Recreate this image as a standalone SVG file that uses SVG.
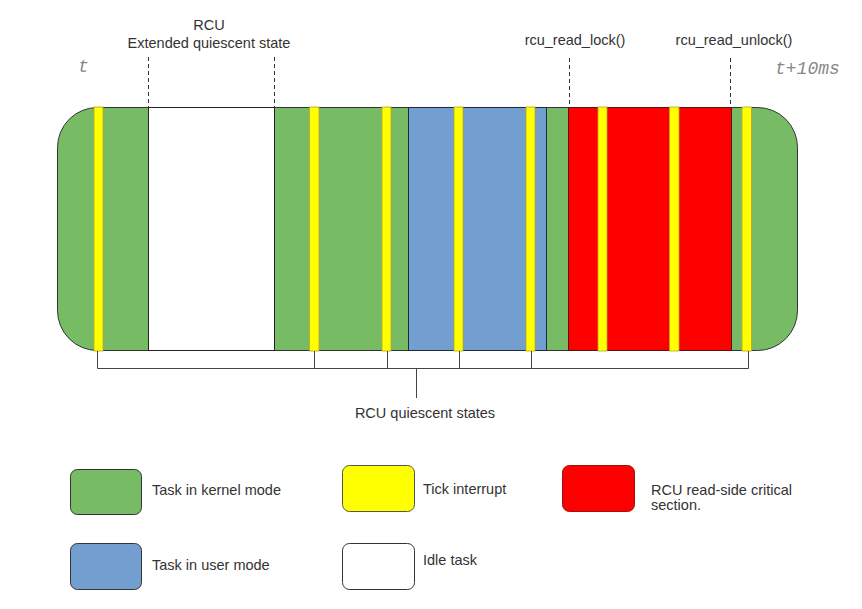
<svg xmlns="http://www.w3.org/2000/svg" width="862" height="609" viewBox="0 0 862 609">
<style>
.t{font-family:"Liberation Sans",Arial,sans-serif;font-size:14.5px;fill:#333}
.m{font-family:"Liberation Mono","DejaVu Sans Mono",monospace;font-style:italic;font-size:18px;fill:#888}
.b{fill:#729fcf;stroke:#1c2a3a;stroke-width:1}
.r{fill:#ff0000;stroke:#5a1010;stroke-width:1}
.y{fill:#ffff00;stroke:#b8a22a;stroke-width:0.8}
.w{fill:#ffffff;stroke:#222;stroke-width:1}
.d{stroke:#333;stroke-width:1;stroke-dasharray:4,3;fill:none}
.l{stroke:#444;stroke-width:1;fill:none}
</style>
<rect width="862" height="609" fill="#fff"/>
<g id="timeline">
<rect x="57.5" y="107.5" width="740" height="243" rx="40" ry="40" fill="#77bc65" stroke="#333" stroke-width="1"/>
<rect class="w" x="148.5" y="107.5" width="126" height="243"/>
<rect class="b" x="408.5" y="107.5" width="138" height="243"/>
<rect class="r" x="568.5" y="107.5" width="163" height="243"/>
<rect class="y" x="94" y="107" width="9" height="244"/>
<rect class="y" x="309.5" y="107" width="9.5" height="244"/>
<rect class="y" x="382" y="107" width="9" height="244"/>
<rect class="y" x="454" y="107" width="9" height="244"/>
<rect class="y" x="526" y="107" width="9" height="244"/>
<rect class="y" x="598" y="107" width="9" height="244"/>
<rect class="y" x="669.5" y="107" width="9.5" height="244"/>
<rect class="y" x="742" y="107" width="9.5" height="244"/>
</g>
<g id="connectors">
<line class="d" x1="148.5" y1="57" x2="148.5" y2="107"/>
<line class="d" x1="274.5" y1="57" x2="274.5" y2="107"/>
<line class="d" x1="569.5" y1="58" x2="569.5" y2="107"/>
<line class="d" x1="730.5" y1="58" x2="730.5" y2="107"/>
<path class="l" d="M97.5 351V368.5H748.5V351M314.5 351V368.5M387.5 351V368.5M459.5 351V368.5M531.5 351V368.5M416.5 368.5V398"/>
</g>
<g id="labels">
<text class="t" x="209" y="30" text-anchor="middle">RCU</text>
<text class="t" x="209" y="48" text-anchor="middle">Extended quiescent state</text>
<text class="t" x="575" y="45" text-anchor="middle">rcu_read_lock()</text>
<text class="t" x="734" y="45" text-anchor="middle">rcu_read_unlock()</text>
<text class="m" x="78" y="72">t</text>
<text class="m" x="775" y="74">t+10ms</text>
<text class="t" x="425" y="418" text-anchor="middle">RCU quiescent states</text>
</g>
<g id="legend-kernel">
<rect x="70.5" y="469.5" width="71" height="45" rx="7" fill="#77bc65" stroke="#333"/>
<text class="t" x="152" y="495">Task in kernel mode</text>
</g>
<g id="legend-user">
<rect x="70.5" y="543.5" width="71" height="46" rx="7" fill="#729fcf" stroke="#333"/>
<text class="t" x="152" y="570">Task in user mode</text>
</g>
<g id="legend-tick">
<rect x="342.5" y="465.5" width="72" height="46" rx="7" fill="#ffff00" stroke="#555"/>
<text class="t" x="423" y="494">Tick interrupt</text>
</g>
<g id="legend-idle">
<rect x="342.5" y="543.5" width="72" height="46" rx="7" fill="#fff" stroke="#333"/>
<text class="t" x="423" y="565">Idle task</text>
</g>
<g id="legend-rcu">
<rect x="562.5" y="465.5" width="72" height="46" rx="7" fill="#ff0000" stroke="#a01010"/>
<text class="t" x="651" y="495">RCU read-side critical</text>
<text class="t" x="651" y="510">section.</text>
</g>
</svg>
